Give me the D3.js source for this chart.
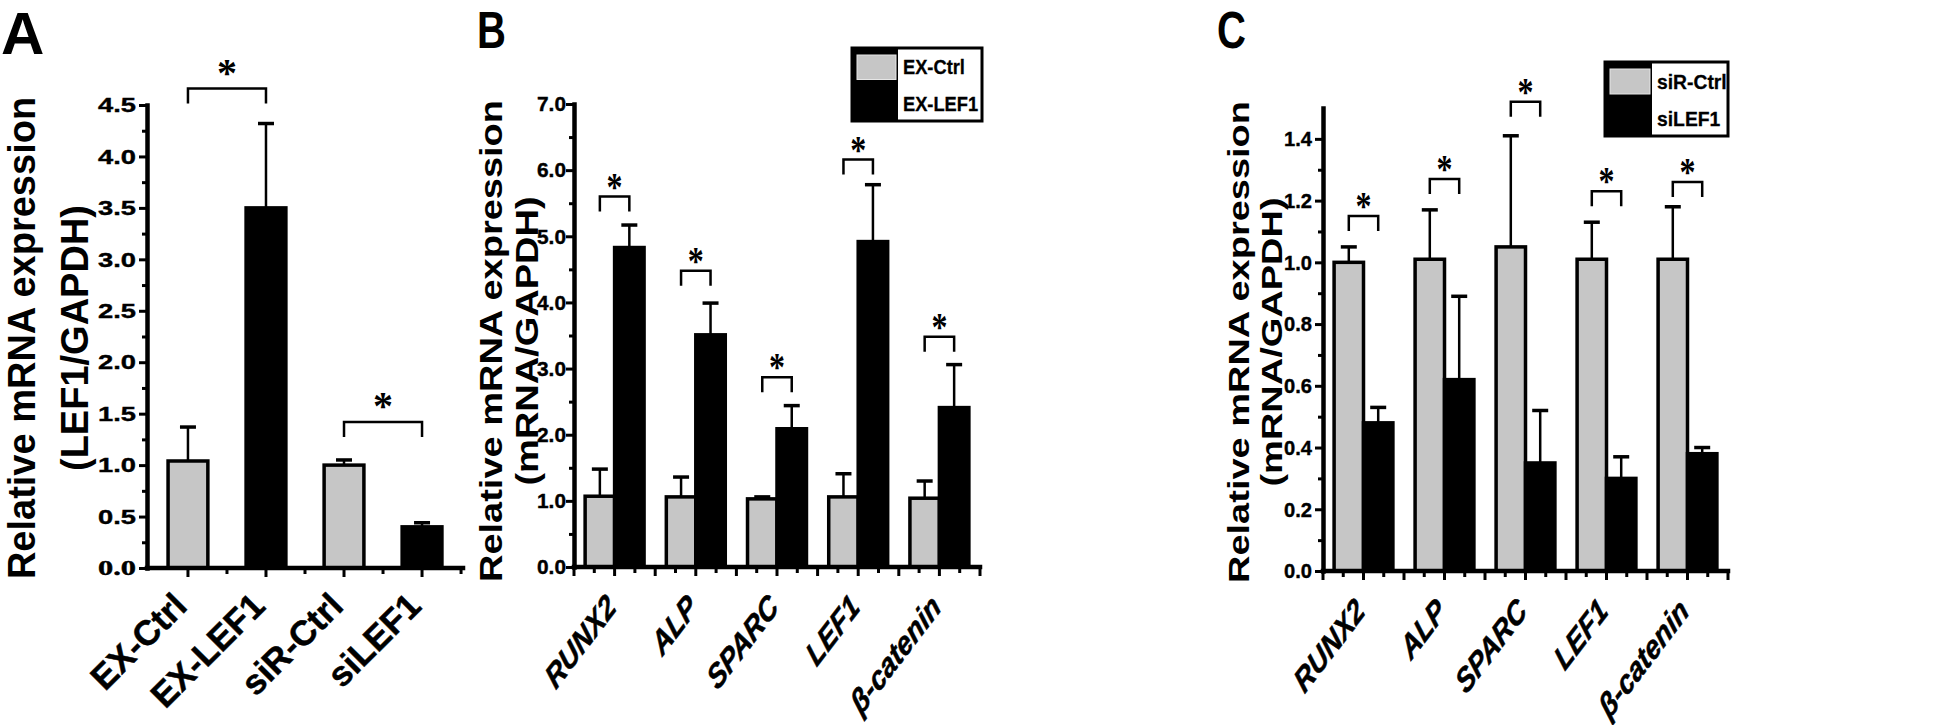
<!DOCTYPE html>
<html><head><meta charset="utf-8">
<script src="https://cdn.jsdelivr.net/npm/d3@7"></script>
<style>
html,body{margin:0;padding:0;background:#fff;}
svg{display:block;}
</style></head><body>
<svg id="chart" width="1946" height="725"></svg>
<script>
// ---------- Panel A data ----------
const catA = ["EX-Ctrl", "EX-LEF1", "siR-Ctrl", "siLEF1"];
const groupA = ["ctrl", "treat", "ctrl", "treat"];
const valA = [1.04, 3.50, 1.00, 0.40];
const errA = [1.37, 4.32, 1.05, 0.44];           // top of error bar
const sigPairsA = [[0, 1], [2, 3]];
const sigLevelA = [4.66, 1.42];                  // bracket height (data units)
const ticksA = [0, 0.5, 1, 1.5, 2, 2.5, 3, 3.5, 4, 4.5];
const tickLabelsA = ["0.0", "0.5", "1.0", "1.5", "2.0", "2.5", "3.0", "3.5", "4.0", "4.5"];
const titleA = ["Relative mRNA expression", "(LEF1/GAPDH)"];

// ---------- Panel B data ----------
const genes = ["RUNX2", "ALP", "SPARC", "LEF1", "β-catenin"];
const seriesB = ["EX-Ctrl", "EX-LEF1"];
const exCtrl = [1.07, 1.06, 1.03, 1.06, 1.04];
const exCtrlErr = [1.48, 1.36, 1.06, 1.41, 1.30];
const exLef1 = [4.83, 3.51, 2.09, 4.92, 2.41];
const exLef1Err = [5.17, 3.99, 2.44, 5.78, 3.06];
const sigLevelB = [5.60, 4.48, 2.87, 6.16, 3.48];
const ticksB = [0, 1, 2, 3, 4, 5, 6, 7];
const tickLabelsB = ["0.0", "1.0", "2.0", "3.0", "4.0", "5.0", "6.0", "7.0"];
const titleB = ["Relative mRNA expression", "(mRNA/GAPDH)"];

// ---------- Panel C data ----------
const seriesC = ["siR-Ctrl", "siLEF1"];
const siCtrl = [1.00, 1.01, 1.05, 1.01, 1.01];
const siCtrlErr = [1.05, 1.17, 1.41, 1.13, 1.18];
const siLef1 = [0.48, 0.62, 0.35, 0.30, 0.38];
const siLef1Err = [0.53, 0.89, 0.52, 0.37, 0.40];
const sigLevelC = [1.15, 1.27, 1.52, 1.23, 1.26];
const ticksC = [0, 0.2, 0.4, 0.6, 0.8, 1.0, 1.2, 1.4];
const tickLabelsC = ["0.0", "0.2", "0.4", "0.6", "0.8", "1.0", "1.2", "1.4"];
const titleC = ["Relative mRNA expression", "(mRNA/GAPDH)"];

// ---------- styling ----------
const SANS = "'Liberation Sans', Arial, Helvetica, sans-serif";
const SERIF = "'Liberation Serif', 'Times New Roman', serif";
const GRAY = "#c6c6c6";
const fillOf = s => (s === "ctrl" ? GRAY : "#000");

const svg = d3.select("#chart");

function txt(parent, x, y, s, o = {}) {
  const t = parent.append("text")
    .attr("transform", `translate(${x},${y}) scale(${o.sx || 1},1) rotate(${o.rot || 0})`)
    .attr("text-anchor", o.anchor || "start")
    .attr("font-size", o.size || 20)
    .attr("font-weight", "bold")
    .attr("font-family", o.family || SANS)
    .attr("fill", "#000")
    .text(s);
  if (o.italic) t.attr("font-style", "italic");
  if (o.stroke) t.attr("stroke", "#000").attr("stroke-width", o.stroke);
  return t;
}

function yAxisDraw(g, y, x0, ticks, labels, minor, labelLen, labelFamily, pad) {
  const ax = d3.axisLeft(y).tickValues(ticks).tickSize(8).tickSizeOuter(0).tickPadding(pad)
    .tickFormat((d, i) => labels[i]);
  const ga = g.append("g").attr("transform", `translate(${x0},0)`).call(ax);
  ga.select(".domain").attr("stroke-width", 4.5).attr("stroke-linecap", "square");
  ga.selectAll(".tick line").attr("stroke-width", 3);
  ga.selectAll(".tick text")
    .attr("font-size", 21).attr("font-weight", "bold").attr("font-family", SANS).attr("fill", "#000")
    .attr("stroke", "#000").attr("stroke-width", 0.4)
    .attr("textLength", labelLen).attr("lengthAdjust", "spacingAndGlyphs");
  if (labelFamily) ga.selectAll(".tick text").filter((d, i) => i === 0).attr("font-family", labelFamily);
  const mn = d3.axisLeft(y).tickValues(minor).tickSize(5).tickSizeOuter(0).tickFormat("");
  const gm = g.append("g").attr("transform", `translate(${x0},0)`).call(mn);
  gm.select(".domain").remove();
  gm.selectAll(".tick line").attr("stroke-width", 3);
}

function xAxisLine(g, x0, x1, yb, majors, minors) {
  g.append("line").attr("x1", x0).attr("x2", x1).attr("y1", yb).attr("y2", yb)
    .attr("stroke", "#000").attr("stroke-width", 4.5).attr("stroke-linecap", "square");
  g.selectAll(null).data(majors).join("line")
    .attr("x1", d => d).attr("x2", d => d).attr("y1", yb).attr("y2", yb + 9)
    .attr("stroke", "#000").attr("stroke-width", 3);
  g.selectAll(null).data(minors).join("line")
    .attr("x1", d => d).attr("x2", d => d).attr("y1", yb).attr("y2", yb + 6)
    .attr("stroke", "#000").attr("stroke-width", 3);
}

function errBar(g, cx, yTop, yVal) {
  g.append("line").attr("x1", cx).attr("x2", cx).attr("y1", yVal).attr("y2", yTop)
    .attr("stroke", "#000").attr("stroke-width", 2.5);
  g.append("line").attr("x1", cx - 8).attr("x2", cx + 8).attr("y1", yTop).attr("y2", yTop)
    .attr("stroke", "#000").attr("stroke-width", 3.5);
}

function bracket(g, xa, xb, yb, legs, starGap, sx) {
  g.append("path").attr("d", `M${xa},${yb + legs}V${yb}H${xb}V${yb + legs}`)
    .attr("fill", "none").attr("stroke", "#000").attr("stroke-width", 2.5);
  txt(g, (xa + xb) / 2, yb - starGap + 18, "*", { size: 40, anchor: "middle", family: SERIF, sx: sx });
}

// ================= Panel A =================
{
  const g = svg.append("g");
  const y = d3.scaleLinear().domain([0, 4.5]).range([568, 105]);
  const x = d3.scaleBand().domain(catA).range([147, 463]).paddingInner(0.49).paddingOuter(0.27);
  const bw = x.bandwidth(), step = x.step();

  g.selectAll(null).data(catA).join("rect")
    .attr("x", d => x(d)).attr("width", bw)
    .attr("y", (d, i) => y(valA[i])).attr("height", (d, i) => y(0) - y(valA[i]))
    .attr("fill", (d, i) => fillOf(groupA[i])).attr("stroke", "#000").attr("stroke-width", 3.5);
  catA.forEach((c, i) => errBar(g, x(c) + bw / 2, y(errA[i]), y(valA[i])));

  sigPairsA.forEach((p, k) => {
    bracket(g, x(catA[p[0]]) + bw / 2, x(catA[p[1]]) + bw / 2, y(sigLevelA[k]), 15, 21, 1);
  });

  yAxisDraw(g, y, 147, ticksA, tickLabelsA, ticksA.slice(0, -1).map(t => t + 0.25), 38, SERIF, 3);
  const centers = catA.map(c => x(c) + bw / 2);
  xAxisLine(g, 147, 463, y(0), centers, centers.map(c => c + step / 2));

  catA.forEach(c => txt(g, x(c) + bw / 2 + 1, y(0) + 40, c, { size: 35, anchor: "end", rot: -45, stroke: 0.5 }));

  txt(g, 35, 338, titleA[0], { size: 38, anchor: "middle", rot: -90 });
  txt(g, 88, 338, titleA[1], { size: 38, anchor: "middle", rot: -90 });
  txt(g, 1, 54, "A", { size: 60 });
}

// ================= Panels B & C =================
function groupedPanel(cfg) {
  const g = svg.append("g");
  const y = d3.scaleLinear().domain([0, cfg.ymax]).range([cfg.y0, cfg.yTop]);
  const x0 = d3.scaleBand().domain(genes).range([cfg.xl, cfg.xr]).padding(0);
  const bw = x0.bandwidth();
  const x1 = d3.scaleBand().domain(["ctrl", "treat"]).range([bw * 0.137, bw * 0.863]).padding(0);
  const sb = x1.bandwidth();
  const series = [
    { key: "ctrl", v: cfg.ctrl, e: cfg.ctrlErr },
    { key: "treat", v: cfg.treat, e: cfg.treatErr }
  ];
  series.forEach(s => {
    g.selectAll(null).data(genes).join("rect")
      .attr("x", d => x0(d) + x1(s.key)).attr("width", sb)
      .attr("y", (d, i) => y(s.v[i])).attr("height", (d, i) => y(0) - y(s.v[i]))
      .attr("fill", fillOf(s.key)).attr("stroke", "#000").attr("stroke-width", 3.5);
  });
  series.forEach(s => genes.forEach((d, i) =>
    errBar(g, x0(d) + x1(s.key) + sb / 2, y(s.e[i]), y(s.v[i]))));

  genes.forEach((d, i) => {
    bracket(g, x0(d) + x1("ctrl") + sb / 2, x0(d) + x1("treat") + sb / 2, y(cfg.sig[i]), 15, 15, 0.8);
  });

  yAxisDraw(g, y, cfg.xl, cfg.ticks, cfg.tickLabels,
    cfg.ticks.slice(0, -1).map((t, i) => (t + cfg.ticks[i + 1]) / 2), cfg.tickLen, null, cfg.pad);

  const majors = [], minors = [];
  genes.forEach(d => {
    majors.push(x0(d), x0(d) + bw / 2);
    minors.push(x0(d) + bw / 4, x0(d) + 3 * bw / 4);
  });
  majors.push(cfg.xr);
  xAxisLine(g, cfg.xl, cfg.xr, y(0), majors, minors);

  genes.forEach(d => txt(g, x0(d) + bw / 2 + 3, y(0) + 42, d,
    { size: 34, anchor: "end", rot: -45, italic: true, sx: 0.76, stroke: 0.6 }));

  txt(g, cfg.t1x, cfg.ty, cfg.title[0], { size: 38, anchor: "middle", rot: -90, sx: cfg.tsx });
  txt(g, cfg.t2x, cfg.ty, cfg.title[1], { size: 38, anchor: "middle", rot: -90, sx: cfg.tsx });
  txt(g, cfg.letterX, 48, cfg.letter, { size: 52, sx: 0.77 });

  // legend
  const L = cfg.leg;
  g.append("rect").attr("x", L.x).attr("y", L.y).attr("width", L.w).attr("height", L.h)
    .attr("fill", "#fff").attr("stroke", "#000").attr("stroke-width", 3);
  g.append("rect").attr("x", L.x).attr("y", L.y).attr("width", L.col).attr("height", L.h).attr("fill", "#000");
  g.append("rect").attr("x", L.x + 5).attr("y", L.y + 7).attr("width", L.col - 7).attr("height", L.h / 2 - 12)
    .attr("fill", GRAY).attr("stroke", "#e6e6e6").attr("stroke-width", 1);
  cfg.series.forEach((s, i) => {
    txt(g, L.x + L.col + 5, L.y + (i + 0.5) * L.h / 2 + 8, s, { size: 21, sx: L.tsx, stroke: 0.3 });
  });
}

groupedPanel({
  ymax: 7, y0: 567, yTop: 104, xl: 574, xr: 980,
  ctrl: exCtrl, ctrlErr: exCtrlErr, treat: exLef1, treatErr: exLef1Err,
  sig: sigLevelB, ticks: ticksB, tickLabels: tickLabelsB, tickLen: 29, pad: 0,
  title: titleB, t1x: 502, t2x: 538, ty: 341, tsx: 0.82,
  letter: "B", letterX: 477, series: seriesB,
  leg: { x: 852, y: 48, w: 130, h: 73, col: 46, tsx: 0.87 }
});

groupedPanel({
  ymax: 1.5, y0: 571, yTop: 108, xl: 1323, xr: 1728,
  ctrl: siCtrl, ctrlErr: siCtrlErr, treat: siLef1, treatErr: siLef1Err,
  sig: sigLevelC, ticks: ticksC, tickLabels: tickLabelsC, tickLen: 28, pad: 3,
  title: titleC, t1x: 1249, t2x: 1282, ty: 342, tsx: 0.78,
  letter: "C", letterX: 1217, series: seriesC,
  leg: { x: 1605, y: 62, w: 123, h: 74, col: 47, tsx: 0.92 }
});
</script>
</body></html>
